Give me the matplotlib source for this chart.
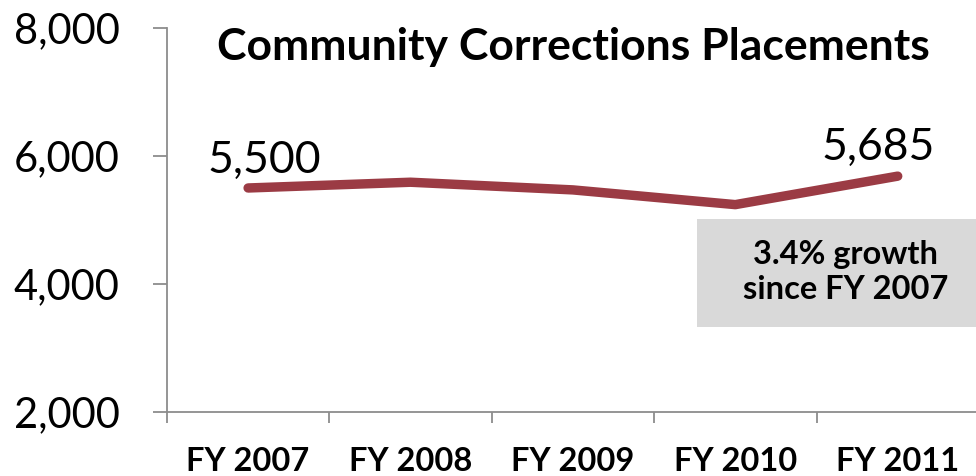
import matplotlib.pyplot as plt
from matplotlib.patches import Rectangle
from matplotlib.ticker import FuncFormatter, FixedLocator

years = ['FY 2007', 'FY 2008', 'FY 2009', 'FY 2010', 'FY 2011']
placements = [5500, 5590, 5470, 5240, 5685]
y_ticks = [2000, 4000, 6000, 8000]
title = 'Community Corrections Placements'
note = '3.4% growth\nsince FY 2007'

line_color = '#9b3b44'
axis_color = '#8c8c8c'

plt.rcParams['font.family'] = ['Lato', 'DejaVu Sans']

fig = plt.figure(figsize=(9.76, 4.76), dpi=100)
ax = fig.add_axes([0.171, 0.1345, 0.832, 0.8067])

x = list(range(len(years)))
ax.plot(x, placements, color=line_color, lw=6.8, solid_capstyle='round',
        solid_joinstyle='round', zorder=3)

ax.set_ylim(y_ticks[0], y_ticks[-1])
ax.set_xlim(-0.5, len(years) - 0.5)
ax.set_yticks(y_ticks)
ax.yaxis.set_major_formatter(FuncFormatter(lambda v, p: f'{int(v):,}'))

# category ticks between groups, labels at centres
ax.xaxis.set_major_locator(FixedLocator([i - 0.5 for i in range(len(years) + 1)]))
ax.xaxis.set_minor_locator(FixedLocator(x))
ax.set_xticklabels([''] * (len(years) + 1))
ax.set_xticklabels(years, minor=True, fontsize=23.5, fontweight='bold')
ax.tick_params(axis='x', which='minor', length=0, pad=25)
ax.tick_params(axis='x', which='major', length=8, width=1.3, color=axis_color)
ax.tick_params(axis='y', length=10, width=1.3, color=axis_color, labelsize=30, pad=24)

for s in ['top', 'right']:
    ax.spines[s].set_visible(False)
for s in ['left', 'bottom']:
    ax.spines[s].set_color(axis_color)
    ax.spines[s].set_linewidth(1.3)

ax.text(0.501, 0.95, title, transform=ax.transAxes, fontsize=32,
        fontweight='bold', ha='center', va='center')

# data labels on first and last points
ax.annotate(f'{placements[0]:,}', (x[0], placements[0]), xytext=(11.5, 20),
            textcoords='offset points', ha='center', va='center', fontsize=32)
ax.annotate(f'{placements[-1]:,}', (x[-1], placements[-1]), xytext=(-14, 21),
            textcoords='offset points', ha='center', va='center', fontsize=32)

fig.patches.append(Rectangle((0.714, 0.313), 0.29, 0.227, transform=fig.transFigure,
                             facecolor='#d9d9d9', edgecolor='none', zorder=1))
fig.text(0.866, 0.428, note, ha='center', va='center', fontsize=23.5,
         fontweight='bold', linespacing=1.25)

fig.savefig('out.png', dpi=100)
